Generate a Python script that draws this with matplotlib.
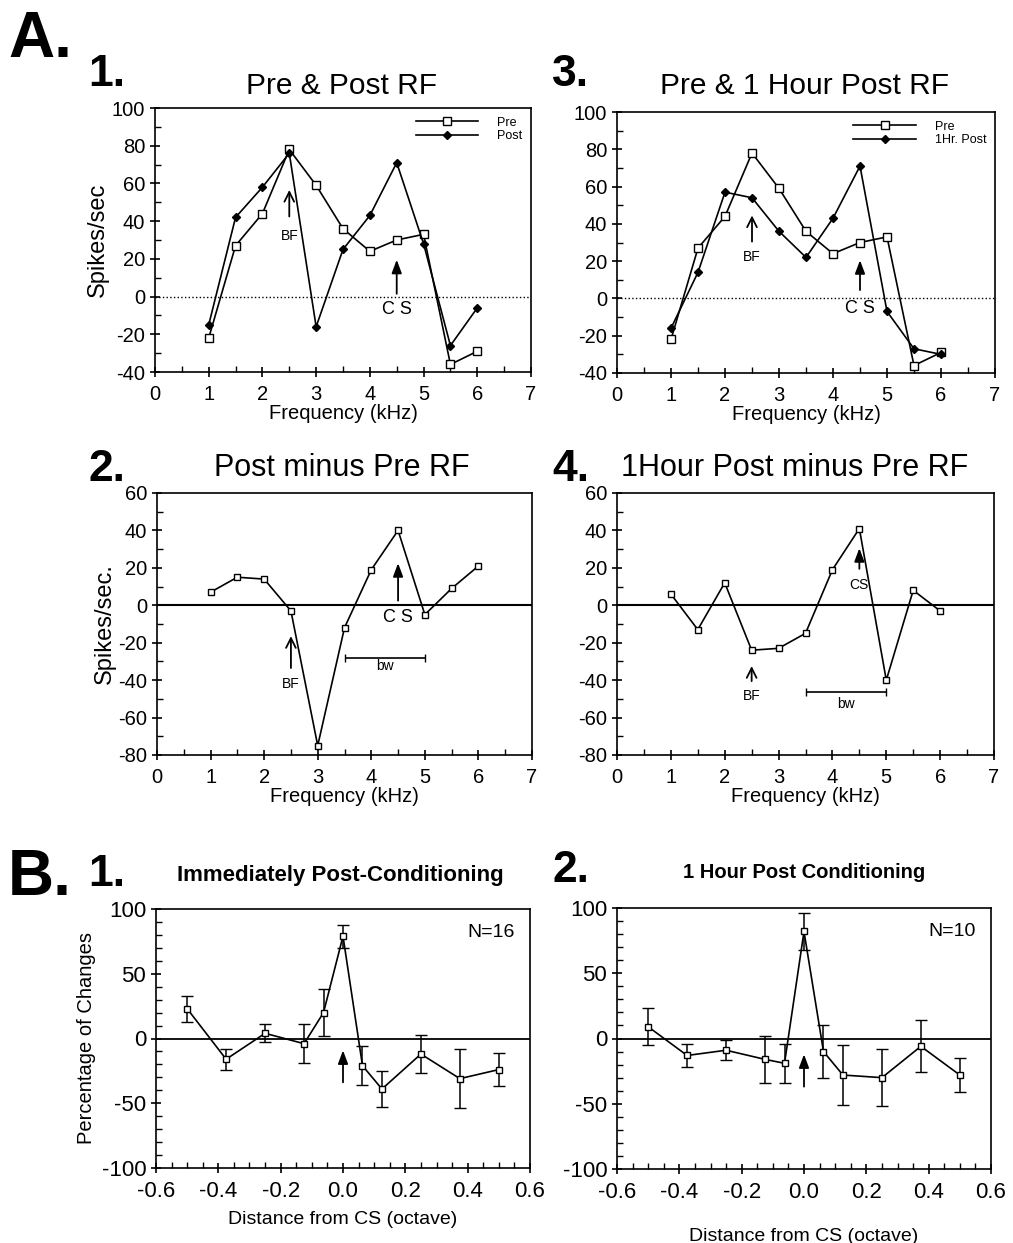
import numpy as np
import matplotlib
matplotlib.use("Agg")
import matplotlib.pyplot as plt
from matplotlib.ticker import MultipleLocator, FormatStrFormatter

plt.rcParams["font.family"] = ["Liberation Sans", "DejaVu Sans"]
plt.rcParams["axes.unicode_minus"] = False

# ---- data ----
freq = [1, 1.5, 2, 2.5, 3, 3.5, 4, 4.5, 5, 5.5, 6]
pre = [-22, 27, 44, 78, 59, 36, 24, 30, 33, -36, -29]
post = [-15, 42, 58, 76, -16, 25, 43, 71, 28, -26, -6]
post_1h = [-16, 14, 57, 54, 36, 22, 43, 71, -7, -27, -30]
diff_post = [7, 15, 14, -3, -75, -12, 19, 40, -5, 9, 21]
diff_1h = [6, -13, 12, -24, -23, -15, 19, 41, -40, 8, -3]

octave = [-0.5, -0.375, -0.25, -0.125, -0.0625, 0, 0.0625, 0.125, 0.25, 0.375, 0.5]
pct_imm = [23, -16, 4, -4, 20, 79, -21, -39, -12, -31, -24]
err_imm = [10, 8, 7, 15, 18, 9, 15, 14, 15, 23, 13]
pct_1h = [9, -13, -9, -16, -19, 82, -10, -28, -30, -6, -28]
err_1h = [14, 9, 7.5, 18, 15, 14, 20, 23, 22, 20, 13]

W, H = 1013, 1243
fig = plt.figure(figsize=(W / 100, H / 100), dpi=100)


def add_ax(l, t, r, b):
    return fig.add_axes([l / W, 1 - b / H, (r - l) / W, (b - t) / H])


def style(ax, xmaj, xmin, ymaj, ymin, fs=14.5):
    ax.xaxis.set_major_locator(MultipleLocator(xmaj))
    ax.xaxis.set_minor_locator(MultipleLocator(xmin))
    ax.yaxis.set_major_locator(MultipleLocator(ymaj))
    ax.yaxis.set_minor_locator(MultipleLocator(ymin))
    ax.tick_params(which="major", direction="inout", length=7, width=1.2, labelsize=fs,
                   top=False, right=False)
    ax.tick_params(axis="x", which="major", pad=6)
    ax.tick_params(which="minor", direction="in", length=4, width=1.0, top=False, right=False)
    for s in ax.spines.values():
        s.set_linewidth(1.2)


def arrow(ax, x, y0, y1, text, ty, open_head=False, fs=10):
    if open_head:
        ax.annotate("", xy=(x, y1), xytext=(x, y0),
                    arrowprops=dict(arrowstyle="->,head_length=0.7,head_width=0.35", lw=1.3, color="black"))
    else:
        ax.annotate("", xy=(x, y1), xytext=(x, y0),
                    arrowprops=dict(arrowstyle="-|>,head_length=0.8,head_width=0.3", lw=1.3, color="black"))
    if text:
        ax.text(x, ty, text, ha="center", va="center", fontsize=fs)


def bw(ax, y, ty):
    ax.errorbar([4.25], [y], xerr=[[0.75], [0.75]], fmt="none", ecolor="black", elinewidth=1.2,
                capsize=3)
    ax.text(4.25, ty, "bw", ha="center", va="center", fontsize=10)


# A1
ax1 = add_ax(155, 108, 531, 372)
ax1.plot(freq, pre, "-s", color="black", mfc="white", ms=6, lw=1.2, label="Pre")
ax1.plot(freq, post, "-D", color="black", ms=4.5, lw=1.2, label="Post")
ax1.axhline(0, color="black", ls=":", lw=1)
ax1.set_xlim(0, 7)
ax1.set_ylim(-40, 100)
style(ax1, 1, 0.5, 20, 10)
ax1.set_xlabel("Frequency (kHz)", fontsize=14.5, labelpad=0)
ax1.set_ylabel("Spikes/sec", fontsize=17, labelpad=2)
ax1.legend(loc="upper right", frameon=False, fontsize=9, handlelength=5,
           borderaxespad=0.3, labelspacing=0.1, handletextpad=1.5)
arrow(ax1, 2.5, 41, 58, "BF", 32, open_head=True)
arrow(ax1, 4.5, 0, 21, "C S", -7, fs=13)

# A3
ax3 = add_ax(617, 112, 995, 373)
ax3.plot(freq, pre, "-s", color="black", mfc="white", ms=6, lw=1.2, label="Pre")
ax3.plot(freq, post_1h, "-D", color="black", ms=4.5, lw=1.2, label="1Hr. Post")
ax3.axhline(0, color="black", ls=":", lw=1)
ax3.set_xlim(0, 7)
ax3.set_ylim(-40, 100)
style(ax3, 1, 0.5, 20, 10)
ax3.set_xlabel("Frequency (kHz)", fontsize=14.5, labelpad=0)
ax3.legend(loc="upper right", frameon=False, fontsize=9, handlelength=5,
           borderaxespad=0.3, labelspacing=0.1, handletextpad=1.5)
arrow(ax3, 2.5, 29, 46, "BF", 22, open_head=True)
arrow(ax3, 4.5, 3, 22, "C S", -5.5, fs=13)

# A2
ax2 = add_ax(157, 493, 532, 755)
ax2.plot(freq, diff_post, "-s", color="black", mfc="white", ms=5, lw=1.2)
ax2.axhline(0, color="black", lw=1.5)
ax2.set_xlim(0, 7)
ax2.set_ylim(-80, 60)
style(ax2, 1, 0.5, 20, 10)
ax2.set_xlabel("Frequency (kHz)", fontsize=14.5, labelpad=0)
ax2.set_ylabel("Spikes/sec.", fontsize=17, labelpad=2)
arrow(ax2, 2.5, -35, -15, "BF", -42, open_head=True)
arrow(ax2, 4.5, 1, 24, "C S", -6.5, fs=13)
bw(ax2, -28, -32.5)

# A4
ax4 = add_ax(617, 493, 994, 755)
ax4.plot(freq, diff_1h, "-s", color="black", mfc="white", ms=5, lw=1.2)
ax4.axhline(0, color="black", lw=1.5)
ax4.set_xlim(0, 7)
ax4.set_ylim(-80, 60)
style(ax4, 1, 0.5, 20, 10)
ax4.set_xlabel("Frequency (kHz)", fontsize=14.5, labelpad=0)
arrow(ax4, 2.5, -42, -31, "BF", -48.5, open_head=True)
arrow(ax4, 4.5, 18, 32, "CS", 11, fs=10)
bw(ax4, -46.5, -52.5)

# B1
bx1 = add_ax(156, 909, 530, 1168)
bx1.errorbar(octave, pct_imm, yerr=err_imm, fmt="-s", color="black", mfc="white", ms=5,
             lw=1.2, capsize=4, elinewidth=1.1)
bx1.axhline(0, color="black", lw=1.3)
bx1.set_xlim(-0.6, 0.6)
bx1.set_ylim(-100, 100)
style(bx1, 0.2, 0.05, 50, 10, fs=16)
bx1.xaxis.set_major_formatter(FormatStrFormatter("%.1f"))
bx1.set_xlabel("Distance from CS (octave)", fontsize=14, labelpad=6)
bx1.set_ylabel("Percentage of Changes", fontsize=14.5, labelpad=4)
bx1.text(0.96, 0.91, "N=16", transform=bx1.transAxes, ha="right", va="center", fontsize=14)
arrow(bx1, 0, -36, -7, "", 0)

# B2
bx2 = add_ax(617, 908, 991, 1169)
bx2.errorbar(octave, pct_1h, yerr=err_1h, fmt="-s", color="black", mfc="white", ms=5,
             lw=1.2, capsize=4, elinewidth=1.1)
bx2.axhline(0, color="black", lw=1.3)
bx2.set_xlim(-0.6, 0.6)
bx2.set_ylim(-100, 100)
style(bx2, 0.2, 0.05, 50, 10, fs=16)
bx2.xaxis.set_major_formatter(FormatStrFormatter("%.1f"))
bx2.set_xlabel("Distance from CS (octave)", fontsize=14, labelpad=18)
bx2.text(0.96, 0.91, "N=10", transform=bx2.transAxes, ha="right", va="center", fontsize=14)
arrow(bx2, 0, -39, -10, "", 0)


def ftext(x, y, s, **kw):
    fig.text(x / W, 1 - y / H, s, **kw)


# panel letters / numbers
ftext(8, 40, "A.", fontsize=46, fontweight="bold", va="center")
ftext(88, 75, "1.", fontsize=32, fontweight="bold", va="center")
ftext(552, 75, "3.", fontsize=32, fontweight="bold", va="center")
ftext(88, 470, "2.", fontsize=32, fontweight="bold", va="center")
ftext(552, 470, "4.", fontsize=32, fontweight="bold", va="center")
ftext(8, 878, "B.", fontsize=46, fontweight="bold", va="center")
ftext(88, 875, "1.", fontsize=32, fontweight="bold", va="center")
ftext(552, 870, "2.", fontsize=32, fontweight="bold", va="center")

# titles
ftext(342, 86, "Pre & Post RF", fontsize=21.5, ha="center", va="center")
ftext(805, 86, "Pre & 1 Hour Post RF", fontsize=21.5, ha="center", va="center")
ftext(342, 468, "Post minus Pre RF", fontsize=22, ha="center", va="center")
ftext(795, 468, "1Hour Post minus Pre RF", fontsize=22, ha="center", va="center")
ftext(340, 875, "Immediately Post-Conditioning", fontsize=16, fontweight="bold",
      ha="center", va="center")
ftext(804, 873, "1 Hour Post Conditioning", fontsize=14.5, fontweight="bold",
      ha="center", va="center")

fig.savefig("out.png", dpi=100)
